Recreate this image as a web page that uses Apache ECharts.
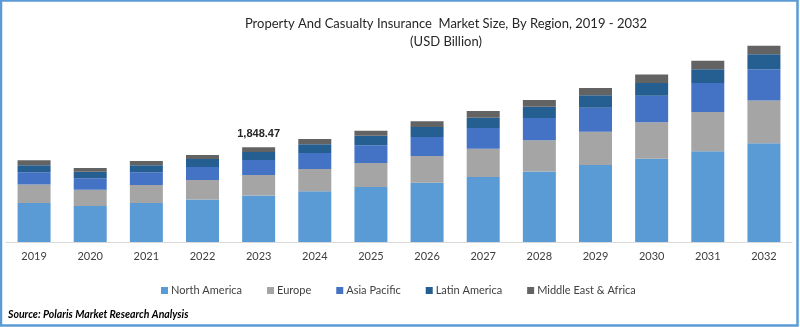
<!DOCTYPE html>
<html>
<head>
<meta charset="utf-8">
<script src="https://cdn.jsdelivr.net/npm/echarts@6/dist/echarts.min.js"></script>
<style>
  html, body { margin: 0; padding: 0; background: #fff; }
  #chart { width: 800px; height: 327px; }
</style>
</head>
<body>
<div id="chart"></div>
<script>
const years = ['2019','2020','2021','2022','2023','2024','2025','2026','2027','2028','2029','2030','2031','2032'];
const northAmerica = [761, 703, 761, 828, 906, 990, 1074, 1158, 1269, 1378, 1503, 1626, 1769, 1925];
const europe       = [359, 318, 351, 383, 402, 435, 468, 521, 552, 605, 650, 709, 769, 834];
const asiaPacific  = [240, 221, 248, 254, 293, 312, 345, 371, 404, 437, 468, 521, 566, 611];
const latinAmerica = [137, 131, 137, 156, 156, 170, 187, 195, 201, 221, 240, 248, 265, 293];
const middleEastAfrica = [98, 72, 84, 78, 91.47, 103, 98, 111, 131, 131, 144, 162, 170, 164];
const seriesNames = ['North America', 'Europe', 'Asia Pacific', 'Latin America', 'Middle East & Africa'];
const colors = ['#5b9bd5', '#a5a5a5', '#4472c4', '#255e91', '#636363'];
const labelYear = '2023';
const labelText = '1,848.47';

const FONT = 'Lato';
const data = [northAmerica, europe, asiaPacific, latinAmerica, middleEastAfrica];

const chart = echarts.init(document.getElementById('chart'), null, { renderer: 'canvas' });
const series = data.map((arr, i) => ({
  name: seriesNames[i],
  type: 'bar',
  stack: 'total',
  barWidth: 33,
  itemStyle: { color: colors[i] },
  data: arr.map((v, j) => {
    if (i === data.length - 1 && years[j] === labelYear) {
      return {
        value: v,
        label: {
          show: true, position: 'top', distance: 8,
          formatter: labelText,
          fontFamily: 'Liberation Sans', fontWeight: 'bold', fontSize: 11, color: '#262626'
        }
      };
    }
    return v;
  })
}));

chart.setOption({
  animation: false,
  color: colors,
  title: [
    { text: 'Property And Casualty Insurance  Market Size, By Region, 2019 - 2032', left: 441, top: 12, textAlign: 'center',
      textStyle: { fontFamily: FONT, fontSize: 13, fontWeight: 'normal', color: '#262626' } },
    { text: '(USD Billion)', left: 441, top: 30, textAlign: 'center',
      textStyle: { fontFamily: FONT, fontSize: 13, fontWeight: 'normal', color: '#262626' } },
    { text: 'Source: Polaris Market Research Analysis', left: 8, top: 309, padding: 0,
      textStyle: { fontFamily: FONT, fontSize: 10.5, fontWeight: 'bold', fontStyle: 'italic', color: '#000' } }
  ],
  legend: {
    top: 280, left: 156,
    itemWidth: 7, itemHeight: 7, itemGap: 25,
    icon: 'rect',
    textStyle: { fontFamily: FONT, fontSize: 11, color: '#404040', padding: [0, 0, 0, -2] },
    data: seriesNames
  },
  grid: { left: 6, right: 8, top: 37, bottom: 85, containLabel: false },
  xAxis: {
    type: 'category', data: years,
    axisLine: { lineStyle: { color: '#d9d9d9', width: 1 } },
    axisTick: { show: false },
    axisLabel: { fontFamily: FONT, fontSize: 11, color: '#404040', margin: 9 }
  },
  yAxis: {
    type: 'value', min: 0, max: 4000, show: false,
    splitLine: { show: false }
  },
  graphic: [
    { type: 'rect', shape: { x: 1, y: 0.5, width: 796.5, height: 325 },
      style: { fill: 'none', stroke: '#5b9bd5', lineWidth: 2.5 }, silent: true }
  ],
  series: series
});
</script>
</body>
</html>
